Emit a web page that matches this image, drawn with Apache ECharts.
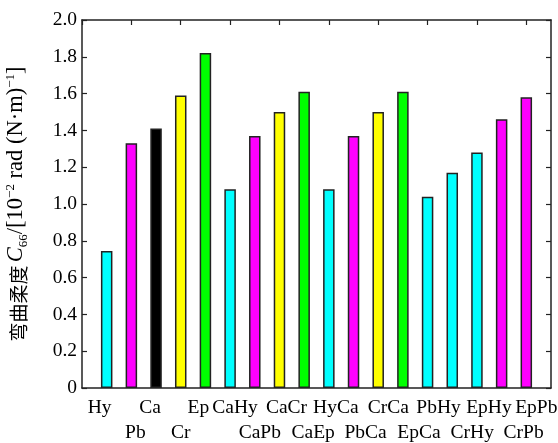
<!DOCTYPE html>
<html>
<head>
<meta charset="utf-8">
<script src="https://cdn.jsdelivr.net/npm/echarts@6/dist/echarts.min.js"></script>
<style>
  html, body { margin: 0; padding: 0; background: #fff; }
  #chart { width: 558px; height: 443px; }
</style>
</head>
<body>
<div id="chart"></div>
<script>
// Specimen groups (blank slots at both ends keep a one-step margin inside the frame)
const categories = ['', 'Hy', 'Pb', 'Ca', 'Cr', 'Ep', 'CaHy', 'CaPb', 'CaCr', 'CaEp',
  'HyCa', 'PbCa', 'CrCa', 'EpCa', 'PbHy', 'CrHy', 'EpHy', 'CrPb', 'EpPb', ''];
// Group names printed on the lower label row
const lowerRowLabels = ['Pb', 'Cr', 'CaPb', 'CaEp', 'PbCa', 'EpCa', 'CrHy', 'CrPb'];
// Bending compliance C66, 10^-2 rad (N·m)^-1
const compliance = [null, 0.745, 1.33, 1.41, 1.59, 1.82, 1.08, 1.37, 1.50, 1.61,
  1.08, 1.37, 1.50, 1.61, 1.04, 1.17, 1.28, 1.46, 1.58, null];
// Fill colour of each bar
const barColors = [null, '#00ffff', '#ff00ff', '#000000', '#ffff00', '#00ff00',
  '#00ffff', '#ff00ff', '#ffff00', '#00ff00',
  '#00ffff', '#ff00ff', '#ffff00', '#00ff00',
  '#00ffff', '#00ffff', '#00ffff', '#ff00ff', '#ff00ff', null];
const yTicks = [0, 0.2, 0.4, 0.6, 0.8, 1.0, 1.2, 1.4, 1.6, 1.8, 2.0];

// Horizontal nudge (px) of each group name so the two label rows set like typed text
const labelNudge = {
  Hy: -7, Pb: 4, Ca: -6, Cr: 0, Ep: -7, CaHy: 5, CaPb: 5, CaCr: 7, CaEp: 9,
  HyCa: 7, PbCa: 12, CrCa: 10, EpCa: 16, PbHy: 11, CrHy: 20, EpHy: 12, CrPb: 22, EpPb: 10
};

const serif = '"Liberation Serif", "Times New Roman", serif';
const cjk = '"Noto Sans CJK SC", sans-serif';
const frame = { show: true, onZero: false, lineStyle: { color: '#222', width: 1.5 } };
const innerTick = { show: true, inside: true, length: 5, lineStyle: { color: '#222', width: 1.2 } };

const xLabelItems = categories.map(c => {
  const d = labelNudge[c] || 0;
  return {
    value: c,
    textStyle: { padding: d >= 0 ? [0, 0, 0, 2 * d] : [0, -2 * d, 0, 0] }
  };
});

const chart = echarts.init(document.getElementById('chart'), null, { renderer: 'canvas' });
chart.setOption({
  animation: false,
  backgroundColor: '#fff',
  grid: { left: 82, right: 7, top: 20, bottom: 55, containLabel: false, outerBoundsMode: 'none' },
  xAxis: [
    {
      type: 'category',
      data: xLabelItems,
      boundaryGap: false,
      position: 'bottom',
      axisLine: frame,
      axisTick: { show: false },
      axisLabel: {
        interval: 0,
        margin: 7,
        color: '#000',
        fontFamily: serif,
        fontSize: 19.5,
        lineHeight: 25,
        formatter: v => (lowerRowLabels.includes(v) ? '\n' + v : v)
      },
      splitLine: { show: false }
    },
    {
      type: 'category',
      data: categories,
      boundaryGap: false,
      position: 'top',
      axisLine: frame,
      axisTick: innerTick,
      axisLabel: { show: false },
      splitLine: { show: false }
    }
  ],
  yAxis: [
    {
      type: 'value',
      min: 0,
      max: 2.0,
      interval: 0.2,
      position: 'left',
      axisLine: frame,
      axisTick: innerTick,
      axisLabel: {
        color: '#000',
        fontFamily: serif,
        fontSize: 19.5,
        margin: 5,
        formatter: v => {
          const t = yTicks.find(x => Math.abs(x - v) < 1e-9);
          return t === 0 ? '0' : (t !== undefined ? t.toFixed(1) : '');
        }
      },
      splitLine: { show: false },
      name: '{cn|弯曲柔度} {it|C}{sub|66}{n|/[10}{sup|−2}{n| rad (N·m)}{sup|−1}{n|]}',
      nameLocation: 'middle',
      nameGap: 54,
      nameRotate: 90,
      nameTextStyle: {
        color: '#000',
        rich: {
          cn: { fontFamily: cjk, fontSize: 19, color: '#000', lineHeight: 24, verticalAlign: 'bottom' },
          it: { fontFamily: serif, fontStyle: 'italic', fontSize: 22.5, color: '#000', lineHeight: 24, verticalAlign: 'bottom' },
          n: { fontFamily: serif, fontSize: 22.5, color: '#000', lineHeight: 24, verticalAlign: 'bottom' },
          sub: { fontFamily: serif, fontSize: 13, color: '#000', lineHeight: 24, verticalAlign: 'bottom', padding: [0, 0, -2, 0] },
          sup: { fontFamily: serif, fontSize: 13, color: '#000', lineHeight: 24, verticalAlign: 'top' }
        }
      }
    },
    {
      type: 'value',
      min: 0,
      max: 2.0,
      interval: 0.2,
      position: 'right',
      axisLine: frame,
      axisTick: innerTick,
      axisLabel: { show: false },
      splitLine: { show: false }
    }
  ],
  series: [
    {
      type: 'bar',
      xAxisIndex: 0,
      yAxisIndex: 0,
      barWidth: 11.5,
      data: compliance.map((v, i) => ({
        value: v,
        itemStyle: { color: barColors[i] || '#fff', borderColor: '#222', borderWidth: 1.5 }
      }))
    }
  ]
});
</script>
</body>
</html>
